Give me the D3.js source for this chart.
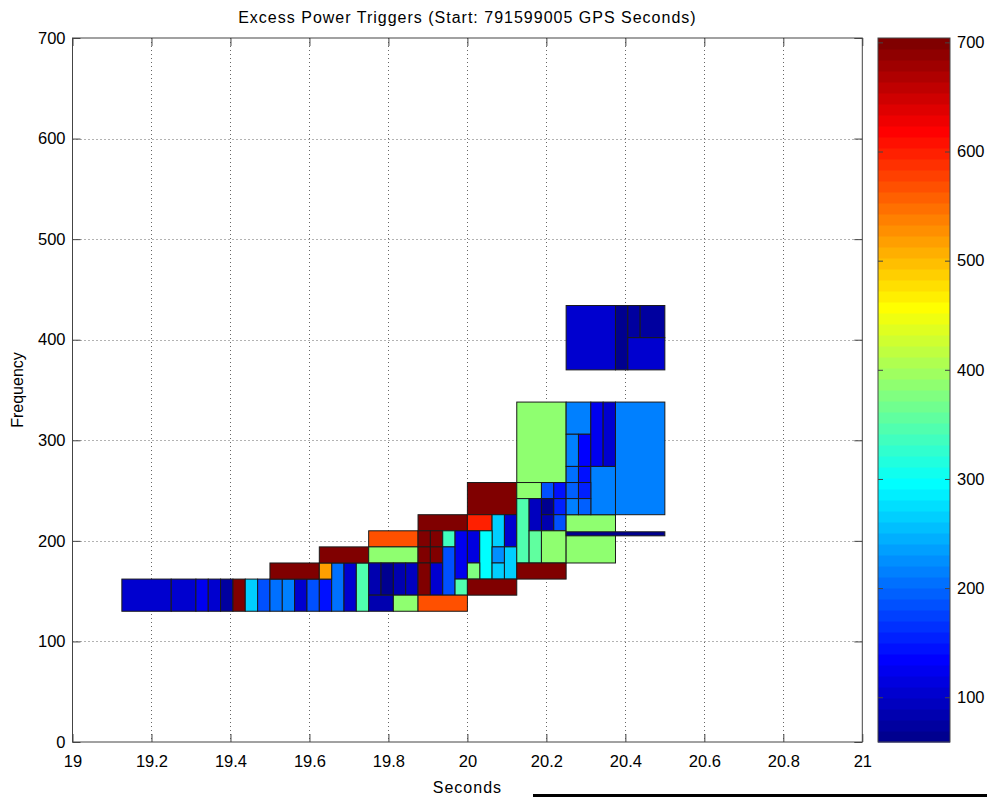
<!DOCTYPE html>
<html>
<head>
<meta charset="utf-8">
<script src="https://cdn.jsdelivr.net/npm/d3@7"></script>
<style>
body { margin: 0; background: #fff; }
svg { font-family: "Liberation Sans", Arial, sans-serif; }
</style>
</head>
<body>
<div id="chart"></div>
<script>
// tiles: time span (s), frequency band (Hz), power (colour value)
let tStart = [
  19.125, 19.25, 19.3125, 19.34375, 19.375, 19.40625, 19.4375, 19.46875, 19.5, 19.53125,
  19.5625, 19.59375, 19.625, 19.65625, 19.6875, 19.71875, 19.5, 19.625, 19.625,
  19.75, 19.75, 19.75, 19.78125, 19.8125, 19.84375, 19.75, 19.8125,
  19.875, 19.875, 19.875, 19.875, 19.90625, 19.90625, 19.90625, 19.9375, 19.9375, 19.96875, 19.96875, 19.875,
  20.0, 20.0, 20.0625, 20.09375, 20.0, 20.03125, 20.0625, 20.0, 20.0625, 20.09375, 20.0,
  20.125, 20.125, 20.1875, 20.21875, 20.125, 20.15625, 20.1875, 20.21875, 20.1875, 20.21875, 20.15625, 20.1875, 20.125,
  20.25, 20.25,
  20.25, 20.25, 20.28125, 20.3125, 20.34375, 20.25, 20.28125, 20.3125, 20.25, 20.28125, 20.25, 20.28125, 20.375,
  20.25, 20.375, 20.40625, 20.4375, 20.40625
]
let tEnd = [
  19.25, 19.3125, 19.34375, 19.375, 19.40625, 19.4375, 19.46875, 19.5, 19.53125, 19.5625,
  19.59375, 19.625, 19.65625, 19.6875, 19.71875, 19.75, 19.625, 19.65625, 19.75,
  19.875, 19.875, 19.78125, 19.8125, 19.84375, 19.875, 19.8125, 19.875,
  20.0, 19.90625, 19.90625, 19.90625, 19.9375, 19.9375, 19.9375, 19.96875, 19.96875, 20.0, 20.0, 20.0,
  20.125, 20.0625, 20.09375, 20.125, 20.03125, 20.0625, 20.09375, 20.03125, 20.09375, 20.125, 20.125,
  20.25, 20.1875, 20.21875, 20.25, 20.15625, 20.1875, 20.21875, 20.25, 20.21875, 20.25, 20.1875, 20.25, 20.25,
  20.375, 20.5,
  20.3125, 20.28125, 20.3125, 20.34375, 20.375, 20.28125, 20.3125, 20.375, 20.28125, 20.3125, 20.28125, 20.3125, 20.5,
  20.375, 20.40625, 20.4375, 20.5, 20.5
]
let fLow = [
  130, 130, 130, 130, 130, 130, 130, 130, 130, 130,
  130, 130, 130, 130, 130, 130, 162, 162, 178,
  194, 178, 146, 146, 146, 146, 130, 130,
  210, 194, 178, 146, 194, 178, 146, 194, 146, 162, 146, 130,
  226, 210, 194, 194, 178, 162, 178, 162, 162, 162, 146,
  258, 242, 242, 242, 178, 210, 226, 226, 210, 210, 178, 178, 162,
  178, 205,
  306, 274, 274, 274, 274, 258, 258, 226, 242, 242, 226, 226, 226,
  370, 370, 402, 402, 370
]
let fHigh = [
  162, 162, 162, 162, 162, 162, 162, 162, 162, 162,
  162, 162, 162, 178, 178, 178, 178, 178, 194,
  210, 194, 178, 178, 178, 178, 146, 146,
  226, 210, 194, 178, 210, 194, 178, 210, 194, 210, 162, 146,
  258, 226, 226, 226, 210, 210, 194, 178, 178, 194, 162,
  338, 258, 258, 258, 242, 242, 242, 242, 226, 226, 210, 210, 178,
  226, 209,
  338, 306, 306, 338, 338, 274, 274, 274, 258, 258, 242, 242, 338,
  434, 434, 434, 434, 402
]
let power = [
  105, 100, 122, 104, 78, 700, 262, 180, 204, 215,
  100, 190, 140, 204, 100, 345, 700, 520, 700,
  570, 390, 85, 68, 88, 99, 80, 390,
  700, 700, 700, 700, 700, 700, 100, 340, 185, 125, 345, 570,
  700, 600, 262, 100, 110, 292, 228, 380, 268, 268, 700,
  385, 385, 190, 140, 345, 90, 65, 150, 80, 190, 360, 385, 700,
  385, 62,
  215, 215, 135, 125, 105, 205, 145, 215, 200, 150, 215, 200, 218,
  100, 65, 78, 78, 100
]

let xTicks = [19, 19.2, 19.4, 19.6, 19.8, 20, 20.2, 20.4, 20.6, 20.8, 21]
let yTicks = [0, 100, 200, 300, 400, 500, 600, 700]
let cTicks = [100, 200, 300, 400, 500, 600, 700]
let cRange = [59, 704]

let titleText = 'Excess Power Triggers (Start: 791599005 GPS Seconds)'

// MATLAB jet(64)
function jet(n) {
    let m = Math.ceil(n / 4)
    let u = []
    for (let i = 1; i <= m; i++) u.push(i / m)
    for (let i = 1; i < m; i++) u.push(1)
    for (let i = m; i >= 1; i--) u.push(i / m)
    let g0 = Math.ceil(m / 2) - (n % 4 === 1 ? 1 : 0)
    let J = d3.range(n).map(() => [0, 0, 0])
    u.forEach((v, k) => {
        let g = g0 + k + 1, r = g + m, b = g - m
        if (r >= 1 && r <= n) J[r - 1][0] = v
        if (g >= 1 && g <= n) J[g - 1][1] = v
        if (b >= 1 && b <= n) J[b - 1][2] = v
    })
    return J.map(c => d3.rgb(c[0] * 255, c[1] * 255, c[2] * 255).formatHex())
}
let cmap = jet(64)
let colorOf = v => {
    let i = Math.floor((v - cRange[0]) / (cRange[1] - cRange[0]) * 64)
    return cmap[Math.max(0, Math.min(63, i))]
}

let svgWidth = 987, svgHeight = 797
let plot = { left: 72.5, right: 862.3, top: 38, bottom: 742 }
let bar = { left: 878, right: 950 }

let svg = d3.select('#chart').append('svg')
    .attr('width', svgWidth)
    .attr('height', svgHeight)

let xScale = d3.scaleLinear().domain([19, 21]).range([plot.left, plot.right])
let yScale = d3.scaleLinear().domain([0, 700]).range([plot.bottom, plot.top])
let cScale = d3.scaleLinear().domain(cRange).range([plot.bottom, plot.top])

// grid (under the tiles)
let grid = svg.append('g').attr('stroke', '#666').attr('stroke-dasharray', '1,3').attr('stroke-width', 1)
grid.selectAll('.vg').data(xTicks.slice(1, -1)).join('line')
    .attr('x1', d => Math.round(xScale(d)) + 0.5).attr('x2', d => Math.round(xScale(d)) + 0.5)
    .attr('y1', plot.top).attr('y2', plot.bottom)
grid.selectAll('.hg').data(yTicks.slice(1, -1)).join('line')
    .attr('y1', d => Math.round(yScale(d)) + 0.5).attr('y2', d => Math.round(yScale(d)) + 0.5)
    .attr('x1', plot.left).attr('x2', plot.right)

// tiles
let tiles = d3.range(tStart.length)
svg.append('g').selectAll('rect').data(tiles).join('rect')
    .attr('x', i => xScale(tStart[i]))
    .attr('y', i => yScale(fHigh[i]))
    .attr('width', i => xScale(tEnd[i]) - xScale(tStart[i]))
    .attr('height', i => yScale(fLow[i]) - yScale(fHigh[i]))
    .attr('fill', i => colorOf(power[i]))
    .attr('stroke', '#1a1a1a')
    .attr('stroke-width', 1)

// axes
let axisColor = '#444'
let fontSize = '16.5px'
let xAxis = svg.append('g').attr('transform', `translate(0,${plot.bottom})`)
    .call(d3.axisBottom(xScale).tickValues(xTicks).tickSizeInner(-8).tickSizeOuter(0).tickPadding(13)
        .tickFormat(d3.format('')))
let xAxisTop = svg.append('g').attr('transform', `translate(0,${plot.top})`)
    .call(d3.axisTop(xScale).tickValues(xTicks).tickSizeInner(-8).tickSizeOuter(0).tickFormat(''))
let yAxis = svg.append('g').attr('transform', `translate(${plot.left},0)`)
    .call(d3.axisLeft(yScale).tickValues(yTicks).tickSizeInner(-8).tickSizeOuter(0).tickPadding(7))
let yAxisRight = svg.append('g').attr('transform', `translate(${plot.right},0)`)
    .call(d3.axisRight(yScale).tickValues(yTicks).tickSizeInner(-8).tickSizeOuter(0).tickFormat(''))

;[xAxis, xAxisTop, yAxis, yAxisRight].forEach(a => {
    a.select('.domain').remove()
    a.selectAll('line').attr('stroke', axisColor)
    a.selectAll('text').attr('fill', '#000').style('font-size', fontSize)
})

svg.append('rect')
    .attr('x', plot.left).attr('y', plot.top)
    .attr('width', plot.right - plot.left).attr('height', plot.bottom - plot.top)
    .attr('fill', 'none').attr('stroke', axisColor).attr('stroke-width', 1)

// colorbar
let bands = d3.range(64)
let bandH = (plot.bottom - plot.top) / 64
svg.append('g').selectAll('rect').data(bands).join('rect')
    .attr('x', bar.left)
    .attr('y', i => plot.bottom - (i + 1) * bandH)
    .attr('width', bar.right - bar.left)
    .attr('height', bandH + 0.5)
    .attr('fill', i => cmap[i])

let cAxis = svg.append('g').attr('transform', `translate(${bar.right},0)`)
    .call(d3.axisRight(cScale).tickValues(cTicks).tickSizeInner(-5).tickSizeOuter(0).tickPadding(7))
let cAxisLeft = svg.append('g').attr('transform', `translate(${bar.left},0)`)
    .call(d3.axisLeft(cScale).tickValues(cTicks).tickSizeInner(-5).tickSizeOuter(0).tickFormat(''))
;[cAxis, cAxisLeft].forEach(a => {
    a.select('.domain').remove()
    a.selectAll('line').attr('stroke', axisColor)
    a.selectAll('text').attr('fill', '#000').style('font-size', fontSize)
})
svg.append('rect')
    .attr('x', bar.left).attr('y', plot.top)
    .attr('width', bar.right - bar.left).attr('height', plot.bottom - plot.top)
    .attr('fill', 'none').attr('stroke', axisColor).attr('stroke-width', 1)

// labels
svg.append('text')
    .attr('x', (plot.left + plot.right) / 2).attr('y', 23)
    .attr('text-anchor', 'middle')
    .style('font-size', '16px').style('letter-spacing', '1px')
    .text(titleText)
svg.append('text')
    .attr('x', (plot.left + plot.right) / 2).attr('y', 793)
    .attr('text-anchor', 'middle')
    .style('font-size', '16px').style('letter-spacing', '1px')
    .text('Seconds')
svg.append('text')
    .attr('transform', `translate(23,${(plot.top + plot.bottom) / 2}) rotate(-90)`)
    .attr('text-anchor', 'middle')
    .style('font-size', '16px')
    .text('Frequency')

// dark strip along the lower right edge of the capture
svg.append('rect')
    .attr('x', 533).attr('y', 794).attr('width', svgWidth - 533).attr('height', 3)
    .attr('fill', '#000')
</script>
</body>
</html>
